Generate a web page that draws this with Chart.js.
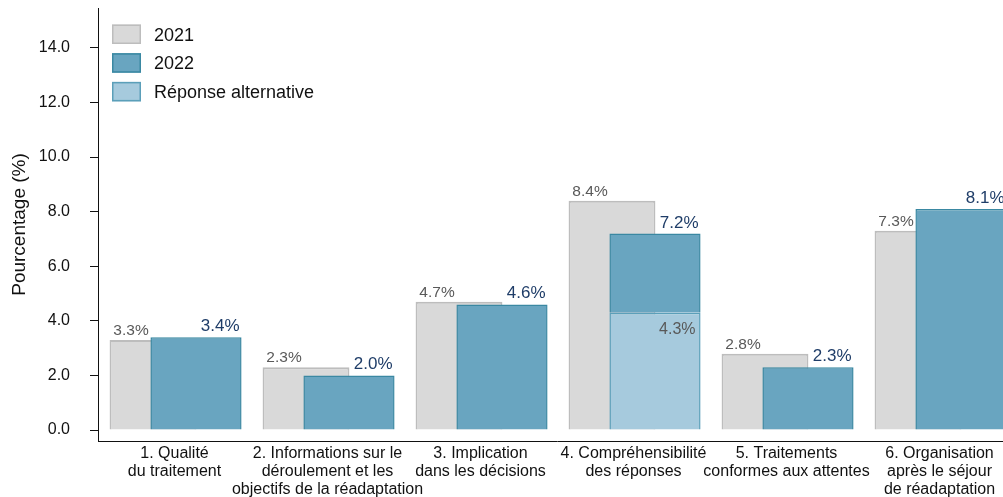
<!DOCTYPE html>
<html lang="fr">
<head>
<meta charset="UTF-8">
<title>Pourcentage par dimension</title>
<script src="https://cdn.jsdelivr.net/npm/chart.js"></script>
<style>
    html, body { margin: 0; padding: 0; background: #fff; overflow: hidden; }
    #wrap { width: 1003px; height: 497px; overflow: hidden; }
    canvas { display: block; }
</style>
</head>
<body>
<div id="wrap"><canvas id="chart" width="1016" height="497"></canvas></div>
<script>
const categories = [
    ['1. Qualité', 'du traitement'],
    ['2. Informations sur le', 'déroulement et les', 'objectifs de la réadaptation'],
    ['3. Implication', 'dans les décisions'],
    ['4. Compréhensibilité', 'des réponses'],
    ['5. Traitements', 'conformes aux attentes'],
    ['6. Organisation', 'après le séjour', 'de réadaptation']
];
const values2021 = [3.3, 2.3, 4.7, 8.4, 2.8, 7.3];
const values2022 = [3.4, 2.0, 4.6, 7.2, 2.3, 8.1];
const valuesAlt = [null, null, null, 4.3, null, null];
const yTicks = [0, 2, 4, 6, 8, 10, 12, 14];

// the 2022 bar is stacked on the alternative answer where there is one
const seg2022 = values2022.map((v, i) => valuesAlt[i] == null ? v : v - valuesAlt[i]);

const FONT = '"Liberation Sans", Arial, sans-serif';
Chart.defaults.font.family = FONT;
Chart.defaults.color = '#111';

const ds2021 = {
    label: '2021', data: values2021, stack: 'a', order: 3,
    backgroundColor: '#d9d9d9', borderColor: '#bdbdbd', borderWidth: 2,
    barPercentage: 2.02
};
const dsAlt = {
    label: 'Réponse alternative', data: valuesAlt, stack: 'b', order: 1,
    backgroundColor: '#a6cadd', borderColor: '#5b9fb9', borderWidth: 1.5,
    barPercentage: 2.12
};
const ds2022 = {
    label: '2022', data: seg2022, stack: 'b', order: 2,
    backgroundColor: '#69a5c0', borderColor: '#3a88a2', borderWidth: 1.5,
    barPercentage: 2.12
};
// empty dataset so that stack 'a' (2021) comes first, on the left
const dsSpacer = { label: '', data: [], stack: 'a', order: -1 };

const legendItems = [ds2021, ds2022, dsAlt];

const customLegend = {
    id: 'customLegend',
    afterDraw(chart) {
        const ctx = chart.ctx;
        ctx.save();
        ctx.font = '18px ' + FONT;
        ctx.textAlign = 'left';
        ctx.textBaseline = 'alphabetic';
        legendItems.forEach((ds, i) => {
            const top = 24.5 + i * 28.7;
            ctx.fillStyle = ds.backgroundColor;
            ctx.fillRect(112, top, 29, 19.5);
            ctx.strokeStyle = ds.borderColor;
            ctx.lineWidth = 1.5;
            ctx.strokeRect(112.75, top + 0.75, 27.5, 18);
            ctx.fillStyle = '#111';
            ctx.fillText(ds.label, 154, top + 16);
        });
        ctx.restore();
    }
};

const barLabels = {
    id: 'barLabels',
    afterDatasetsDraw(chart) {
        const ctx = chart.ctx;
        const grey = chart.getDatasetMeta(chart.data.datasets.indexOf(ds2021)).data;
        const blue = chart.getDatasetMeta(chart.data.datasets.indexOf(ds2022)).data;
        const alt = chart.getDatasetMeta(chart.data.datasets.indexOf(dsAlt)).data;
        ctx.save();
        ctx.textBaseline = 'alphabetic';

        ctx.font = '15.5px ' + FONT;
        ctx.fillStyle = '#595959';
        ctx.textAlign = 'center';
        values2021.forEach((v, i) => {
            const g = grey[i], b = blue[i];
            const gLeft = g.x - g.width / 2, bLeft = b.x - b.width / 2;
            ctx.fillText(v.toFixed(1) + '%', (gLeft + bLeft) / 2 + 1, g.y - 5);
        });

        ctx.font = '17px ' + FONT;
        ctx.fillStyle = '#1f3d68';
        ctx.textAlign = 'right';
        values2022.forEach((v, i) => {
            const b = blue[i];
            ctx.fillText(v.toFixed(1) + '%', b.x + b.width / 2 - 2, b.y - 6);
        });

        ctx.font = '16px ' + FONT;
        ctx.fillStyle = '#595959';
        valuesAlt.forEach((v, i) => {
            if (v == null) return;
            const a = alt[i];
            ctx.fillText(v.toFixed(1) + '%', a.x + a.width / 2 - 5, a.y + 21);
        });
        ctx.restore();
    }
};

new Chart(document.getElementById('chart'), {
    type: 'bar',
    data: {
        labels: categories,
        datasets: [dsSpacer, ds2021, dsAlt, ds2022]
    },
    options: {
        responsive: false,
        animation: false,
        categoryPercentage: 0.562,
        layout: { padding: { top: 8, right: 0, left: 0, bottom: 0 } },
        plugins: {
            legend: { display: false },
            tooltip: { enabled: false }
        },
        scales: {
            x: {
                stacked: true,
                afterFit: s => {
                    s.height = 56;
                    s.paddingLeft = 0;
                    s.paddingRight = 0;
                },
                grid: { display: false, drawTicks: false },
                border: { display: true, color: '#111', width: 1 },
                ticks: {
                    color: '#111',
                    font: { size: 16, lineHeight: 1.15 },
                    padding: 3,
                    maxRotation: 0,
                    autoSkip: false
                }
            },
            y: {
                stacked: true,
                min: -0.4,
                max: 15.46,
                afterFit: s => {
                    s.width = 98;
                    s.paddingTop = 0;
                    s.paddingBottom = 0;
                },
                afterBuildTicks: s => { s.ticks = yTicks.map(v => ({ value: v })); },
                grid: { drawOnChartArea: false, drawTicks: true, tickLength: 8, color: '#111' },
                border: { display: true, color: '#111', width: 1 },
                ticks: {
                    color: '#111',
                    font: { size: 16 },
                    padding: 20,
                    callback: v => Number(v).toFixed(1)
                },
                title: {
                    display: true,
                    text: 'Pourcentage (%)',
                    color: '#111',
                    font: { size: 19, lineHeight: 1.2 },
                    padding: { top: 8.5, bottom: 0 }
                }
            }
        }
    },
    plugins: [barLabels, customLegend]
});
</script>
</body>
</html>
